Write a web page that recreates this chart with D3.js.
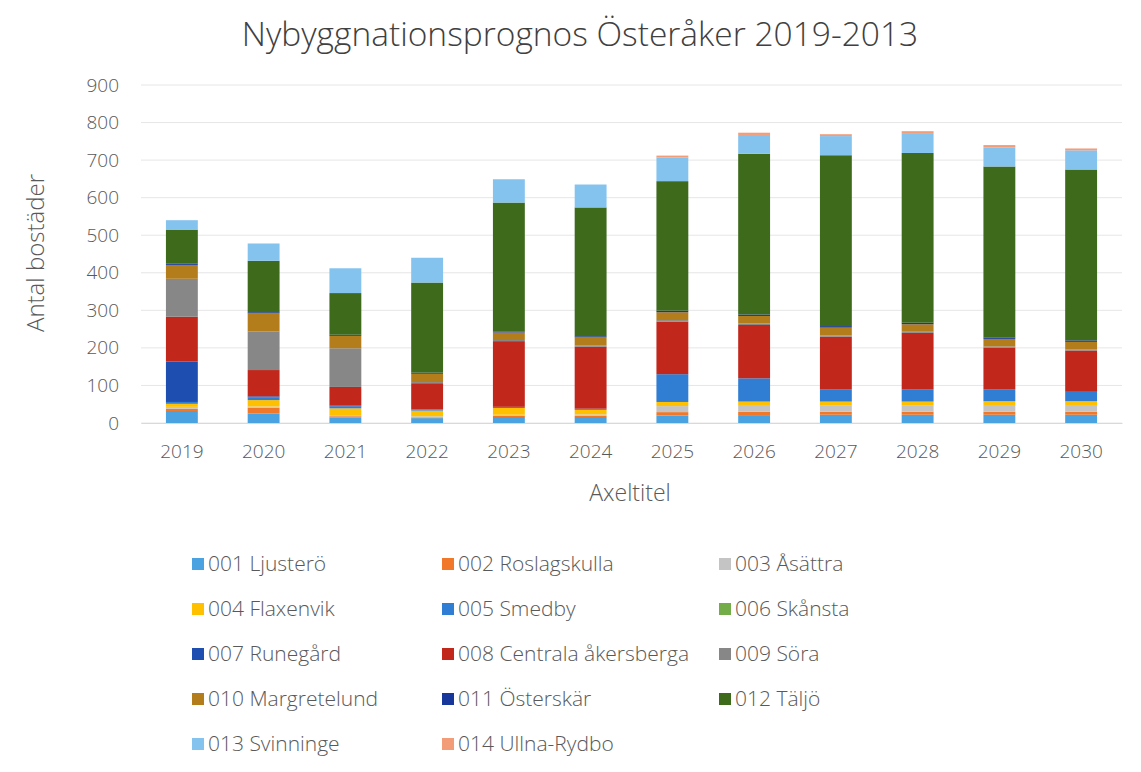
<!DOCTYPE html>
<meta charset="utf-8">
<html>
<head>
<script src="https://d3js.org/d3.v7.min.js"></script>
<style>
  body { margin: 0; background: #fff; }
  text { font-family: "Open Sans", "Noto Sans", sans-serif; font-weight: 300; }
</style>
</head>
<body>
<div id="chart"></div>
<script>
// years on the x axis
var years = ["2019", "2020", "2021", "2022", "2023", "2024", "2025", "2026", "2027", "2028", "2029", "2030"];

// one array per area, bottom of the stack first
var ljustero      = [32, 25, 15, 13, 16, 16, 20, 21, 22, 22, 22, 22];
var roslagskulla  = [6, 16, 3, 2, 3, 3, 9, 9, 8, 8, 8, 8];
var asattra       = [5, 3, 3, 3, 3, 4, 16, 18, 16, 16, 18, 18];
var flaxenvik     = [8, 17, 18, 15, 18, 12, 11, 9, 11, 11, 10, 10];
var smedby        = [5, 7, 5, 3, 3, 3, 74, 62, 33, 33, 32, 25];
var skansta       = [0, 0, 0, 0, 0, 0, 0, 0, 0, 0, 0, 0];
var runegard      = [108, 3, 2, 0, 0, 0, 0, 0, 0, 0, 0, 0];
var centrala      = [119, 70, 50, 70, 175, 165, 140, 142, 140, 150, 111, 110];
var sora          = [101, 103, 103, 3, 3, 3, 4, 4, 3, 3, 3, 3];
var margretelund  = [37, 48, 33, 22, 20, 22, 21, 20, 21, 20, 20, 20];
var osterskar     = [3, 3, 3, 3, 3, 3, 4, 4, 4, 4, 4, 4];
var taljo         = [91, 137, 111, 240, 343, 343, 345, 428, 455, 452, 455, 455];
var svinninge     = [25, 46, 66, 66, 62, 61, 63, 50, 51, 53, 51, 51];
var ullnaRydbo    = [0, 0, 0, 0, 0, 0, 5, 6, 5, 5, 6, 5];

var seriesNames = ["001 Ljusterö", "002 Roslagskulla", "003 Åsättra", "004 Flaxenvik", "005 Smedby",
  "006 Skånsta", "007 Runegård", "008 Centrala åkersberga", "009 Söra", "010 Margretelund",
  "011 Österskär", "012 Täljö", "013 Svinninge", "014 Ullna-Rydbo"];
var seriesValues = [ljustero, roslagskulla, asattra, flaxenvik, smedby, skansta, runegard,
  centrala, sora, margretelund, osterskar, taljo, svinninge, ullnaRydbo];
var seriesColors = ["#4aa3e0", "#f07828", "#c4c4c4", "#ffc000", "#2f7ed4", "#72ad4a", "#1e4fb0",
  "#c1281b", "#878787", "#b47d1c", "#18379a", "#3e6a1c", "#85c3ef", "#f39c78"];

var yTicks = [0, 100, 200, 300, 400, 500, 600, 700, 800, 900];

var W = 1141, H = 772;
var margin = { top: 85, left: 141, right: 19, bottom: 349 };
var width = W - margin.left - margin.right,
    height = H - margin.top - margin.bottom;

var svg = d3.select("#chart").append("svg")
  .attr("width", W).attr("height", H);

var g = svg.append("g")
  .attr("transform", "translate(" + margin.left + "," + margin.top + ")");

// build rows for d3.stack
var rows = years.map(function (yr, i) {
  var r = { year: yr };
  seriesNames.forEach(function (n, k) { r[n] = seriesValues[k][i]; });
  return r;
});
var stacked = d3.stack().keys(seriesNames)(rows);

var x = d3.scaleBand().domain(years).range([0, width]).paddingInner(0.61).paddingOuter(0.305);
var y = d3.scaleLinear().domain([0, 900]).range([height, 0]);
var color = d3.scaleOrdinal().domain(seriesNames).range(seriesColors);

// gridlines
g.append("g")
  .selectAll("line")
  .data(yTicks)
  .enter().append("line")
  .attr("x1", 0).attr("x2", width)
  .attr("y1", function (d) { return y(d); })
  .attr("y2", function (d) { return y(d); })
  .attr("stroke", "#e6e6e6")
  .attr("stroke-width", 1);

// bars
g.selectAll(".layer")
  .data(stacked)
  .enter().append("g")
  .attr("fill", function (d) { return color(d.key); })
  .selectAll("rect")
  .data(function (d) { return d; })
  .enter().append("rect")
  .attr("x", function (d) { return x(d.data.year); })
  .attr("width", x.bandwidth())
  .attr("y", function (d) { return y(d[1]); })
  .attr("height", function (d) { return y(d[0]) - y(d[1]); });

// y axis labels
var yAxis = g.append("g")
  .call(d3.axisLeft(y).tickValues(yTicks).tickSize(0).tickPadding(22));
yAxis.select(".domain").remove();
yAxis.selectAll("text")
  .style("font-size", "19px")
  .style("font-family", "'Open Sans', sans-serif")
  .style("font-weight", 300)
  .attr("fill", "#595959");

// x axis
var xAxis = g.append("g")
  .attr("transform", "translate(0," + height + ")")
  .call(d3.axisBottom(x).tickSize(0).tickPadding(22));
xAxis.select(".domain").attr("stroke", "#d9d9d9");
xAxis.selectAll("text")
  .style("font-size", "19px")
  .style("font-family", "'Open Sans', sans-serif")
  .style("font-weight", 300)
  .attr("fill", "#595959");

// title
svg.append("text")
  .attr("x", 580).attr("y", 46)
  .attr("text-anchor", "middle")
  .style("font-size", "33.5px")
  .attr("fill", "#404040")
  .text("Nybyggnationsprognos Österåker 2019-2013");

// axis titles
svg.append("text")
  .attr("x", 630).attr("y", 501)
  .attr("text-anchor", "middle")
  .style("font-size", "23px")
  .attr("fill", "#595959")
  .text("Axeltitel");

svg.append("text")
  .attr("transform", "translate(44,253) rotate(-90)")
  .attr("text-anchor", "middle")
  .style("font-size", "24px")
  .attr("fill", "#595959")
  .text("Antal bostäder");

// legend, three columns
var colX = [192, 442, 719];
var rowY = [564, 609, 654, 699, 744];
var legend = svg.append("g")
  .selectAll("g")
  .data(seriesNames)
  .enter().append("g")
  .attr("transform", function (d, i) {
    return "translate(" + colX[i % 3] + "," + rowY[Math.floor(i / 3)] + ")";
  });
legend.append("rect")
  .attr("x", 0).attr("y", -6)
  .attr("width", 12).attr("height", 12)
  .attr("fill", function (d) { return color(d); });
legend.append("text")
  .attr("x", 16).attr("y", 0)
  .attr("dy", "0.35em")
  .style("font-size", "21px")
  .attr("fill", "#595959")
  .text(function (d) { return d; });
</script>
</body>
</html>
